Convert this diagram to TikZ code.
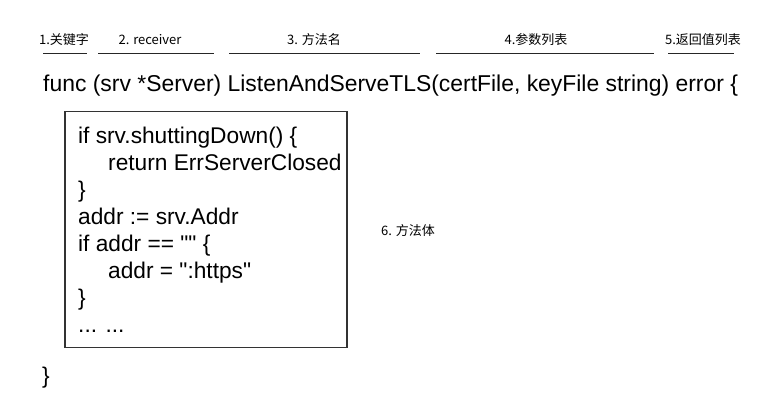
\documentclass[tikz,border=0pt]{standalone}
\usepackage{fontspec}
\setmainfont{Liberation Sans}
\newfontfamily\cjk{Noto Sans CJK SC}
\begin{document}
\begin{tikzpicture}[x=1pt,y=-1pt,
  lbl/.style={inner sep=0pt,anchor=base,font=\cjk\fontsize{13}{13}\selectfont,text=black},
  uline/.style={line width=1.4pt,draw=black!85},
  code/.style={inner sep=0pt,anchor=base west,font=\fontsize{22.7}{27}\selectfont,text=black},
  bodybox/.style={draw=black!80,line width=1.5pt,inner sep=0pt,anchor=north west,minimum width=282pt,minimum height=236pt}]
\useasboundingbox (0,0) rectangle (773,404);
% labels
\node[lbl] (k1) at (64,45) {1.关键字};
\node[lbl] (k2) at (150,45) {2. receiver};
\node[lbl] (k3) at (314,45) {3. 方法名};
\node[lbl] (k4) at (536,45) {4.参数列表};
\node[lbl] (k5) at (703,45) {5.返回值列表};
% underlines
\draw[uline] (43,53.3) -- (87,53.3);
\draw[uline] (98,53.3) -- (214,53.3);
\draw[uline] (229,53.3) -- (420,53.3);
\draw[uline] (436,53.3) -- (654,53.3);
\draw[uline] (668,53.3) -- (734,53.3);
% signature
\node[code,font=\fontsize{22.9}{27}\selectfont] (sig) at (43,92) {func (srv *Server) ListenAndServeTLS(certFile, keyFile string) error \{};
% body box
\node[bodybox] (body) at (64,110.7) {};
\node[code] (l1) at (78,143) {if srv.shuttingDown() \{};
\node[code] (l2) at (108,170) {return ErrServerClosed};
\node[code] (l3) at (78,197) {\}};
\node[code] (l4) at (78,224) {addr := srv.Addr};
\node[code] (l5) at (78,251) {if addr == \textquotedbl\textquotedbl{} \{};
\node[code] (l6) at (108,278) {addr = \textquotedbl:https\textquotedbl};
\node[code] (l7) at (78,305) {\}};
\node[code] (l8) at (78,332) {... ...};
\node[lbl,anchor=base west] (k6) at (381,235) {6. 方法体};
\node[code] (close) at (42,383) {\}};
\end{tikzpicture}
\end{document}
